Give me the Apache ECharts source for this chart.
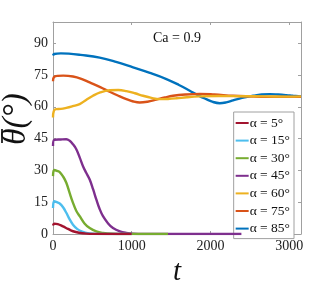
<!DOCTYPE html>
<html><head><meta charset="utf-8">
<script src="https://cdn.jsdelivr.net/npm/echarts@6/dist/echarts.min.js"></script>
<style>html,body{margin:0;padding:0;background:#fff}#c{width:332px;height:291px}</style>
</head><body><div id="c"></div>
<script>
var names = ['α = 5°','α = 15°','α = 30°','α = 45°','α = 60°','α = 75°','α = 85°'];
var colors = ['#A2142F','#4DBEEE','#77AC30','#7E2F8E','#EDB120','#D95319','#0072BD'];
var yTicks = [0,15,30,45,60,75,90];
var xTicks = [0,1000,2000,3000];
var a5 = [[0,4.0],[15,4.9],[60,4.7],[127,3.6],[190,2.4],[254,1.3],[330,0.6],[424,0.2],[550,0.05],[700,0],[1000,0]];
var a15 = [[0,12.3],[15,15.5],[50,15.0],[85,14.4],[130,12.5],[169,10],[210,7.0],[254,4.4],[310,2.3],[381,1.0],[440,0.4],[508,0.1],[600,0],[1000,0]];
var a30 = [[0,27.3],[15,30.2],[50,29.8],[85,29.2],[130,27.0],[169,24.2],[210,19.5],[254,14.7],[295,11.0],[339,8.4],[400,5.0],[466,2.8],[550,1.2],[635,0.5],[750,0.1],[900,0],[1461,0]];
var a45 = [[0,41.5],[15,44.4],[100,44.6],[169,44.7],[212,44.0],[250,42.5],[296,40],[340,36],[381,32],[420,29],[466,25.7],[510,21],[550,16.3],[590,12.0],[635,8.4],[700,5.0],[762,2.8],[850,1.2],[932,0.5],[1020,0.15],[1150,0],[2393,0]];
var a60 = [[0,55.0],[10,58.0],[40,58.9],[100,59.0],[169,59.5],[250,60.3],[339,61.3],[420,63.2],[508,65.2],[600,66.8],[720,67.8],[830,67.9],[932,67.4],[1040,66.4],[1144,65.2],[1250,64.2],[1355,63.6],[1460,63.7],[1567,64.0],[1700,64.5],[1864,64.9],[2100,65.1],[2400,65.0],[2700,64.9],[3000,64.8],[3150,64.9]];
var a75 = [[0,72.0],[12,74.0],[60,74.6],[130,74.7],[254,74.3],[360,73.2],[466,71.5],[600,69.3],[720,67.1],[830,65.2],[932,63.6],[1020,62.5],[1101,62.0],[1200,62.4],[1313,63.4],[1420,64.4],[1525,65.2],[1680,65.8],[1864,66.1],[2050,65.8],[2287,65.2],[2500,64.9],[2711,64.7],[3000,64.7],[3150,64.7]];
var a85 = [[0,84.2],[15,84.9],[100,85.2],[200,85.1],[350,84.5],[593,83.2],[800,81.2],[1017,78.6],[1230,76.0],[1440,73.1],[1600,70.3],[1737,67.6],[1850,65.3],[1948,63.6],[2030,62.3],[2118,61.7],[2200,62.1],[2287,63.0],[2400,64.2],[2541,65.2],[2650,65.8],[2753,66.0],[2860,65.8],[2965,65.5],[3050,65.2],[3150,64.9]];
var series = [a5,a15,a30,a45,a60,a75,a85];
var serif = 'Liberation Serif, DejaVu Serif, serif';
var chart = echarts.init(document.getElementById('c'), null, {renderer:'canvas'});
var axCol = '#a0a0a0';
function ax(pos, show, extra){
  var o = {
    type:'value', position:pos,
    axisLine:{show:true, onZero:false, lineStyle:{color:axCol}},
    axisTick:{show:true, inside:true, length:3, lineStyle:{color:axCol}},
    axisLabel:{show:show, fontFamily:serif, fontSize:14, color:'#222', margin:5, showMaxLabel:false,
      formatter:function(v){return String(v);}},
    splitLine:{show:false}
  };
  for (var k in extra) o[k] = extra[k];
  return o;
}
chart.setOption({
  animation:false,
  backgroundColor:'#fff',
  title:{text:'Ca = 0.9', left:172, top:26, textAlign:'center', textStyle:{fontFamily:serif, fontSize:14, fontWeight:'normal', color:'#111'}},
  grid:{left:53, right:31, top:22, bottom:57, show:false, containLabel:false, outerBoundsMode:'none'},
  legend:{
    orient:'vertical', right:38, top:112, itemWidth:13, itemHeight:2, itemGap:3.6,
    backgroundColor:'#fff', borderColor:axCol, borderWidth:1, padding:[4,4,3,2],
    icon:'rect', textStyle:{fontFamily:serif, fontSize:13.5, color:'#111', padding:[0,0,0,-4]},
    data:names
  },
  xAxis:[
    ax('bottom', true, {min:0, max:3150, interval:1000, name:'t', nameLocation:'middle', nameGap:23,
      nameTextStyle:{fontFamily:serif, fontStyle:'italic', fontSize:29, color:'#111'}}),
    ax('top', false, {min:0, max:3150, interval:1000})
  ],
  yAxis:[
    ax('left', true, {min:0, max:100, interval:15}),
    ax('right', false, {min:0, max:100, interval:15})
  ],
  graphic:[{
    type:'group', x:16, y:119, rotation:Math.PI/2,
    children:[
      {type:'text', x:0, y:0, style:{text:'θ(°)', font:'italic 33px ' + serif, fill:'#111', align:'center', verticalAlign:'middle'}},
      {type:'line', shape:{x1:-24, y1:-14, x2:-10, y2:-14}, style:{stroke:'#111', lineWidth:1.7}}
    ]
  }],
  series: series.map(function(d,i){
    return {name:names[i], type:'line', data:d, smooth:0.4, showSymbol:false, symbol:'none',
      z: 2 + (series.length - i), color:colors[i],
      lineStyle:{width:2.4, color:colors[i]}};
  })
});
</script></body></html>
